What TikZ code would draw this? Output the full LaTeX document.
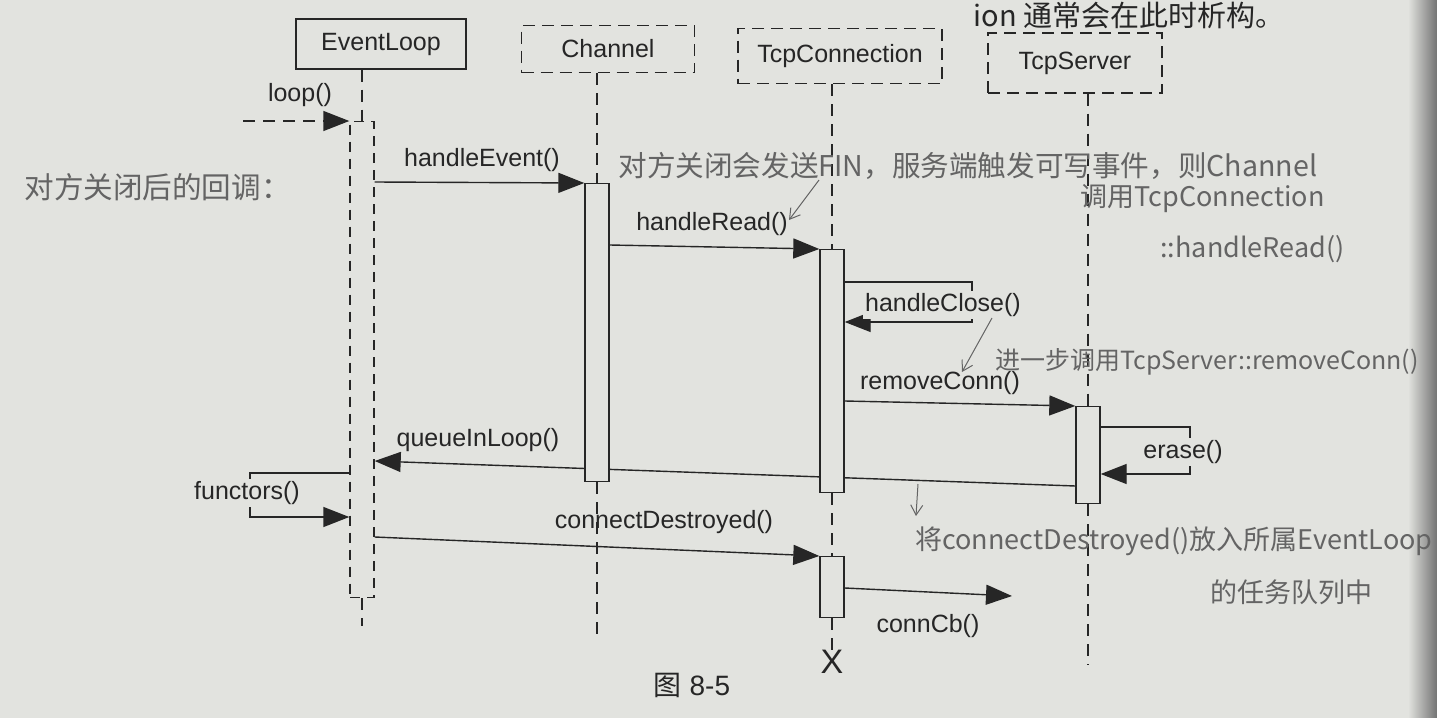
\documentclass[tikz,border=0pt]{standalone}
\usepackage{fontspec}
\setmainfont{Liberation Sans}
\newfontfamily\cjk{Noto Sans CJK SC}
\usetikzlibrary{arrows.meta}
\definecolor{paper}{RGB}{226,227,223}
\definecolor{ink}{RGB}{38,38,38}
\definecolor{pencil}{RGB}{100,100,100}
\pgfdeclarelayer{back}
\pgfdeclarelayer{bg}
\pgfsetlayers{back,bg,main}
\begin{document}
\begin{tikzpicture}[x=0.5pt,y=-0.5pt,
  lbl/.style={font=\fontsize{12.5}{14}\selectfont, text=ink, inner sep=1pt},
  mask/.style={lbl, fill=paper},
  hdr/.style={draw=ink, line width=0.7pt, fill=paper, font=\fontsize{12.5}{14}\selectfont, text=ink, inner sep=0pt},
  hdrd/.style={hdr, dash pattern=on 6pt off 3.5pt},
  life/.style={draw=ink, line width=0.6pt, dash pattern=on 6pt off 4pt},
  actbox/.style={draw=ink, line width=0.7pt, fill=paper, minimum width=12pt, inner sep=0pt, anchor=north},
  actdash/.style={actbox, dash pattern=on 5pt off 3.5pt},
  tip/.style={-{Triangle[length=13pt,width=10pt]}},
  msg/.style={draw=ink, line width=0.7pt, tip},
  note/.style={font=\cjk\fontsize{13.5}{16}\selectfont, text=pencil, inner sep=0pt, anchor=west},
  pen/.style={draw=pencil, line width=0.5pt, -{Straight Barb[length=5pt,width=6pt]}},
]
\useasboundingbox (0,0) rectangle (1437,718);
\begin{pgfonlayer}{back}
  \fill[paper] (0,0) rectangle (1437,718);
  \shade[left color=paper, right color=black!55] (1408,0) rectangle (1437,718);
\end{pgfonlayer}

% top book text
\node[font=\cjk\fontsize{14.5}{17}\selectfont, text=ink, anchor=south east, inner sep=0pt] (toptext) at (1285,29) {ion 通常会在此时析构。};

% headers
\node[hdr,  minimum width=85pt, minimum height=25pt] (hEL) at (381,44) {EventLoop};
\node[hdrd, minimum width=86.5pt, minimum height=23.5pt] (hCh) at (608,49) {Channel};
\node[hdrd, minimum width=102pt, minimum height=27.5pt] (hTC) at (840,56) {TcpConnection};
\node[hdrd, minimum width=87pt, minimum height=30pt] (hTS) at (1075,63) {TcpServer};

% activations
\node[actdash, minimum height=238pt] (aEL) at (362,121) {};
\node[actbox, minimum height=149pt] (aCh) at (597,183) {};
\node[actbox, minimum height=121.5pt] (aTC) at (832,249) {};
\node[actbox, minimum height=30.5pt] (aTC2) at (832,556) {};
\node[actbox, minimum height=48.5pt] (aTS) at (1088,406) {};
\node[font=\fontsize{17}{18}\selectfont, text=ink, inner sep=0pt] (xEnd) at (832,662) {X};

% lifelines
\coordinate (eEL) at (362,626);
\coordinate (eCh) at (597,640);
\coordinate (eTS) at (1088,665);
\draw[life] (aEL.north |- hEL.south) -- (aEL.north);
\draw[life] (aEL.south) -- (eEL);
\draw[life] (aCh.north |- hCh.south) -- (aCh.north);
\draw[life] (aCh.south) -- (eCh);
\draw[life] (aTC.north |- hTC.south) -- (aTC.north);
\draw[life] (aTC.south) -- (aTC2.north);
\draw[life] (aTC2.south) -- (xEnd.north);
\draw[life] (aTS.north |- hTS.south) -- (aTS.north);
\draw[life] (aTS.south) -- (eTS);

% messages
\coordinate (loopStart) at (243,121);
\draw[msg, dash pattern=on 6pt off 4pt] (loopStart) -- (aEL.north west);
\node[lbl] (tLoop) at (300,95) {loop()};

\draw[msg] (aEL.east |- 0,182) -- (aCh.north west);
\node[lbl] (tHE) at (482,160) {handleEvent()};

\draw[msg] (aCh.east |- 0,245) -- (aTC.north west);
\node[lbl] (tHR) at (712,224) {handleRead()};

\coordinate (hcR1) at (972,282);
\coordinate (hcR2) at (972,322);
\draw[msg] (aTC.east |- hcR1) -- (hcR1) -- (hcR2) -- (aTC.east |- hcR2);
\node[mask] (tHC) at (943,305) {handleClose()};

\draw[msg] (aTC.east |- 0,401) -- (aTS.north west);
\node[lbl] (tRC) at (940,383) {removeConn()};

\coordinate (erR1) at (1190,427);
\coordinate (erR2) at (1190,474);
\draw[msg] (aTS.east |- erR1) -- (erR1) -- (erR2) -- (aTS.east |- erR2);
\node[mask] (tER) at (1183,452) {erase()};

\begin{pgfonlayer}{bg}
\draw[msg] (aTS.west |- 0,486) -- (aEL.east |- 0,461);
\end{pgfonlayer}
\node[lbl] (tQL) at (478,440) {queueInLoop()};

\coordinate (fnL1) at (250,473);
\coordinate (fnL2) at (250,517);
\draw[msg] (aEL.west |- fnL1) -- (fnL1) -- (fnL2) -- (aEL.west |- fnL2);
\node[mask] (tFN) at (247,493) {functors()};

\draw[msg] (aEL.east |- 0,537) -- (aTC2.north west);
\node[lbl] (tCD) at (664,522) {connectDestroyed()};

\coordinate (cbEnd) at (1012,596);
\draw[msg] (aTC2.east |- 0,588) -- (cbEnd);
\node[lbl] (tCB) at (928,626) {connCb()};

% caption
\node[font=\fontsize{14}{16}\selectfont, text=ink, inner sep=0pt] (cap) at (692,685) {{\cjk 图} 8-5};

% handwritten notes
\node[note, font=\cjk\fontsize{14.8}{17}\selectfont] (n1) at (24,187) {对方关闭后的回调：};
\node[note, font=\cjk\fontsize{14.3}{17}\selectfont] (n2) at (618,166) {对方关闭会发送FIN，服务端触发可写事件，则Channel};
\node[note] (n3) at (1080,199) {调用TcpConnection};
\node[note] (n4) at (1160,249) {::handleRead()};
\node[note, font=\cjk\fontsize{12.5}{15}\selectfont] (n5) at (995,362) {进一步调用TcpServer::removeConn()};
\node[note, font=\cjk\fontsize{13.5}{15}\selectfont] (n6) at (915,541) {将connectDestroyed()放入所属EventLoop};
\node[note] (n7) at (1210,592) {的任务队列中};

\coordinate (p1a) at (819,180);
\coordinate (p1b) at (789,220);
\draw[pen] (p1a) -- (p1b);
\coordinate (p2a) at (992,318);
\coordinate (p2b) at (962,372);
\draw[pen] (p2a) -- (p2b);
\coordinate (p3a) at (918,484);
\coordinate (p3b) at (916,516);
\draw[pen] (p3a) -- (p3b);
\end{tikzpicture}
\end{document}
